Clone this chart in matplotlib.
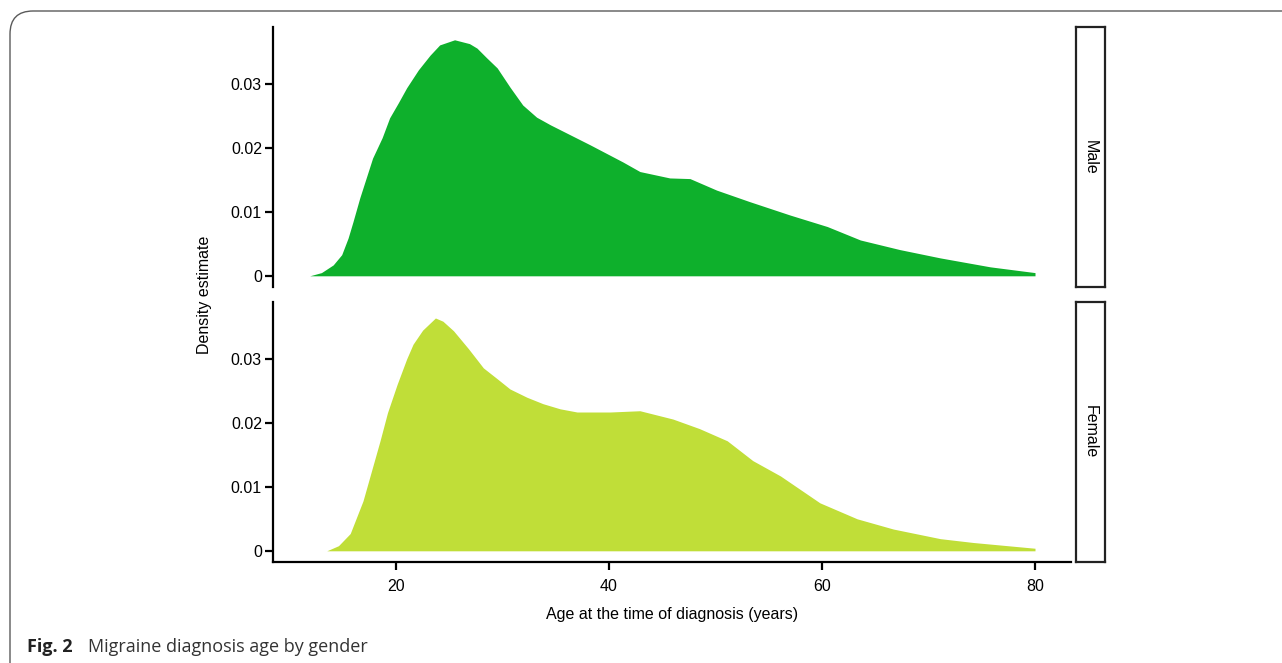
import matplotlib
matplotlib.use("Agg")
import matplotlib.pyplot as plt
from matplotlib.patches import FancyBboxPatch

# ---- data ----
male_age = [11.9, 13.0, 14.1, 14.9, 15.5, 15.95, 16.6, 17.8, 18.7, 19.4, 20.2, 21.0, 22.1,
            23.2, 24.1, 25.5, 26.9, 27.6, 28.5, 29.5, 30.7, 31.9, 33.2, 34.5, 38.2, 41.3,
            42.9, 45.7, 47.6, 50.1, 53.2, 57.0, 60.5, 63.6, 67.3, 71.1, 75.8, 80.0]
male_density = [0.0, 0.0005, 0.0017, 0.0033, 0.0059, 0.0084, 0.0122, 0.0184, 0.0216, 0.0247,
                0.0270, 0.0294, 0.0322, 0.0345, 0.0361, 0.0369, 0.0363, 0.0356, 0.0341,
                0.0325, 0.0295, 0.0267, 0.0248, 0.0236, 0.0205, 0.0178, 0.0163, 0.0153,
                0.0152, 0.0134, 0.0116, 0.0095, 0.0077, 0.0056, 0.0041, 0.0028, 0.0014,
                0.0005]

female_age = [13.5, 14.6, 15.7, 16.9, 17.7, 18.5, 19.2, 20.1, 21.0, 21.6, 22.5, 23.7, 24.4,
              25.4, 26.8, 28.2, 29.5, 30.7, 32.3, 33.8, 35.4, 37.0, 40.1, 42.9, 46.0, 48.5,
              51.1, 53.5, 56.1, 59.8, 63.3, 66.7, 71.1, 74.2, 80.0]
female_density = [0.0, 0.0008, 0.0027, 0.0078, 0.0125, 0.0172, 0.0216, 0.0260, 0.0300,
                  0.0323, 0.0345, 0.0364, 0.0359, 0.0344, 0.0316, 0.0286, 0.0269, 0.0253,
                  0.0240, 0.0230, 0.0222, 0.0217, 0.0217, 0.0219, 0.0206, 0.0191, 0.0172,
                  0.0141, 0.0117, 0.0075, 0.0050, 0.0034, 0.0019, 0.0013, 0.0004]

panel_labels = ["Male", "Female"]
x_ticks = [20, 40, 60, 80]
y_ticks = [0, 0.01, 0.02, 0.03]
y_tick_labels = ["0", "0.01", "0.02", "0.03"]
colors = ["#0EB02C", "#C0DE38"]

W, H = 1282, 663
plt.rcParams["font.family"] = ["Liberation Sans", "DejaVu Sans"]
fig = plt.figure(figsize=(W / 100, H / 100), dpi=100)


def fx(px):
    return px / W


def fy(py):
    return 1 - py / H


# outer rounded frame
frame = FancyBboxPatch((fx(10), fy(700)), fx(1340 - 10), (700 - 11) / H,
                       boxstyle="round,pad=0,rounding_size=0.018",
                       transform=fig.transFigure, facecolor="none",
                       edgecolor="#5a5a5a", lw=1.0, mutation_aspect=W / H)
fig.add_artist(frame)

left, right = 273, 1071
panels = [(27, 287), (302, 562)]
series = [(male_age, male_density), (female_age, female_density)]
fs = 11.5

for i, ((top, bot), (ages, dens)) in enumerate(zip(panels, series)):
    ax = fig.add_axes([fx(left), fy(bot), fx(right - left), (bot - top) / H])
    ax.fill_between(ages, dens, 0, color=colors[i], lw=0)
    ax.set_xlim(8.45, 83.38)
    ax.set_ylim(-0.00175, 0.0389)
    ax.set_yticks(y_ticks)
    ax.set_yticklabels(y_tick_labels, fontsize=fs)
    for s in ["top", "right"]:
        ax.spines[s].set_visible(False)
    ax.spines["left"].set_linewidth(1.6)
    ax.spines["bottom"].set_linewidth(1.6)
    ax.tick_params(axis="both", length=6, width=1.6, pad=2, colors="black", labelsize=fs)
    if i == 0:
        ax.spines["bottom"].set_visible(False)
        ax.set_xticks([])
    else:
        ax.set_xticks(x_ticks)
        ax.set_xticklabels([str(t) for t in x_ticks], fontsize=fs)
        ax.tick_params(axis="x", pad=6)
    # facet strip
    sax = fig.add_axes([fx(1076), fy(bot), fx(1105 - 1076), (bot - top) / H])
    sax.set_xticks([])
    sax.set_yticks([])
    for s in sax.spines.values():
        s.set_linewidth(1.6)
        s.set_color("#222222")
    sax.text(0.5, 0.5, panel_labels[i], rotation=-90, ha="center", va="center",
             fontsize=fs, transform=sax.transAxes)

fig.text(fx(205), fy(295), "Density estimate", rotation=90, ha="center", va="center", fontsize=fs)
fig.text(fx(672), fy(615), "Age at the time of diagnosis (years)", ha="center", va="center", fontsize=fs)

# caption
fig.text(fx(27), fy(652), "Fig. 2", fontsize=13, fontweight="bold",
         family=["Open Sans", "DejaVu Sans"], ha="left", va="baseline", color="#222222")
fig.text(fx(88), fy(652), "Migraine diagnosis age by gender", fontsize=13,
         family=["Open Sans", "DejaVu Sans"], ha="left", va="baseline", color="#333333")

fig.savefig("out.png", dpi=100)
